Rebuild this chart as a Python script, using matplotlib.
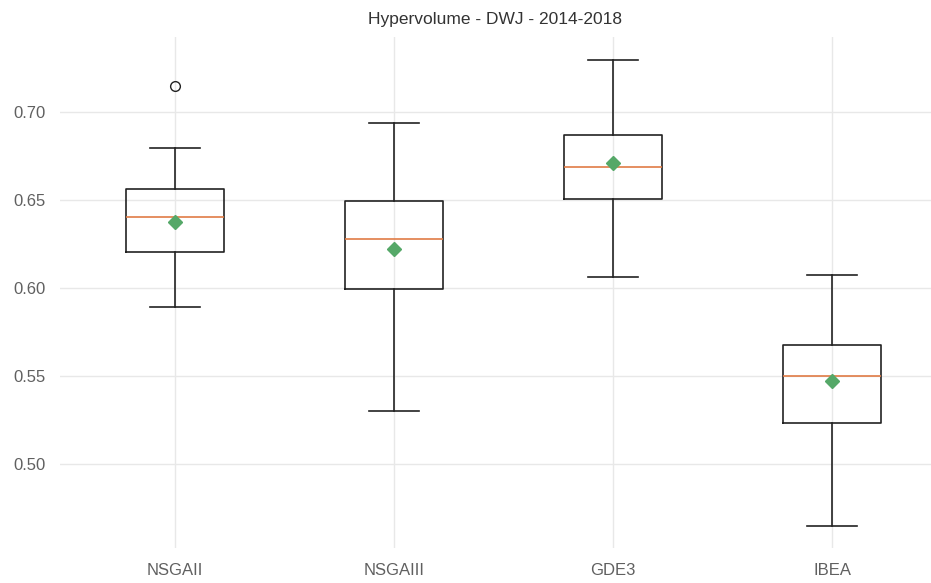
import matplotlib
matplotlib.use("Agg")
import matplotlib.pyplot as plt

plt.rcParams['font.family'] = ['Liberation Sans', 'DejaVu Sans']

algorithms = ["NSGAII", "NSGAIII", "GDE3", "IBEA"]
whislo = [0.5895, 0.5304, 0.6065, 0.4650]
q1 = [0.6207, 0.5992, 0.6503, 0.5232]
med = [0.6406, 0.6281, 0.6690, 0.5501]
q3 = [0.6565, 0.6497, 0.6872, 0.5679]
whishi = [0.6798, 0.6940, 0.7298, 0.6073]
means = [0.6378, 0.6219, 0.6713, 0.5474]
fliers = [[0.7150], [], [], []]

stats = []
for i, name in enumerate(algorithms):
    stats.append({
        "label": name,
        "whislo": whislo[i],
        "q1": q1[i],
        "med": med[i],
        "q3": q3[i],
        "whishi": whishi[i],
        "mean": means[i],
        "fliers": fliers[i],
    })

fig = plt.figure(figsize=(9.31, 5.83), dpi=100)
ax = fig.add_axes([60 / 931, 1 - 547.5 / 583, 871 / 931, 511 / 583])

ax.bxp(stats, positions=[1, 2, 3, 4], widths=0.45, showmeans=True,
       boxprops=dict(color="#222222", linewidth=1.2),
       whiskerprops=dict(color="#222222", linewidth=1.2),
       capprops=dict(color="#222222", linewidth=1.2),
       medianprops=dict(color="#e07b45", linewidth=1.2),
       meanprops=dict(marker="D", markerfacecolor="#55a868",
                      markeredgecolor="#55a868", markersize=7),
       flierprops=dict(marker="o", markerfacecolor="none",
                       markeredgecolor="#222222", markersize=7))

ax.set_xlim(0.475, 4.452)
ax.set_ylim(0.4526, 0.7429)
ax.set_yticks([0.50, 0.55, 0.60, 0.65, 0.70])
ax.set_yticklabels(["0.50", "0.55", "0.60", "0.65", "0.70"])

ax.grid(True, color="#e8e8e8", linewidth=1)
ax.set_axisbelow(True)
for spine in ax.spines.values():
    spine.set_visible(False)
ax.tick_params(axis="both", length=0, labelsize=12, labelcolor="#606060")
ax.tick_params(axis="x", pad=11)
ax.tick_params(axis="y", pad=10)

ax.set_title("Hypervolume - DWJ - 2014-2018", fontsize=12.5, color="#333333", pad=9)

fig.savefig("out.png", dpi=100, facecolor="white")
